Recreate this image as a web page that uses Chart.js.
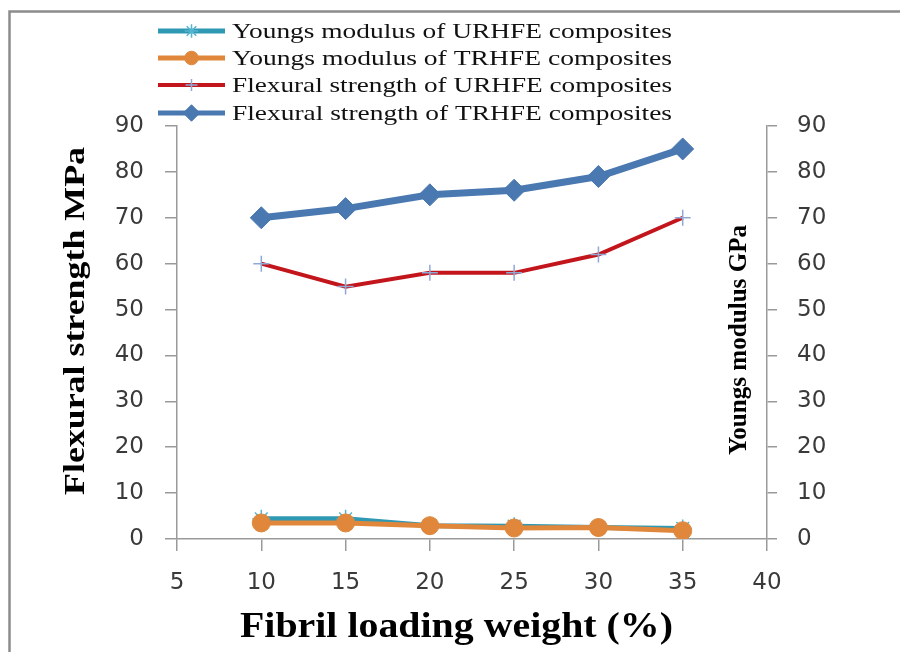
<!DOCTYPE html>
<html>
<head>
<meta charset="utf-8">
<script src="https://cdn.jsdelivr.net/npm/chart.js@4.4.1/dist/chart.umd.min.js"></script>
<style>
  html, body { margin: 0; padding: 0; background: #fff; }
</style>
</head>
<body>
<canvas id="chart" width="900" height="652"></canvas>
<script>
// data
const loading = [10, 15, 20, 25, 30, 35];
const youngsURHFE = [4.4, 4.4, 2.9, 2.8, 2.5, 2.3];
const youngsTRHFE = [3.5, 3.5, 2.9, 2.4, 2.5, 1.8];
const flexURHFE = [60, 55, 58, 58, 62, 70];
const flexTRHFE = [70, 72, 75, 76, 79, 85];
const seriesNames = [
    'Youngs modulus of URHFE composites',
    'Youngs modulus of TRHFE composites',
    'Flexural strength of URHFE composites',
    'Flexural strength of TRHFE composites'
];
const xTitle = 'Fibril loading weight (%)';
const yLeftTitle = 'Flexural strength MPa';
const yRightTitle = 'Youngs modulus GPa';

const toPoints = (ys) => loading.map((x, i) => ({ x: x, y: ys[i] }));

const tickFont = { family: 'DejaVu Sans', size: 23 };
const tickColor = '#3a3a3a';
const axisGrey = '#9a9a9a';

// write text stretched along its direction to a given width (the original is a wide picture)
function fitText(ctx, text, x, y, width) {
    const w = ctx.measureText(text).width;
    ctx.save();
    ctx.translate(x, y);
    ctx.scale(width / w, 1);
    ctx.fillText(text, 0, 0);
    ctx.restore();
}

// frame round the whole picture
const framePlugin = {
    id: 'frame',
    beforeDraw(chart) {
        const ctx = chart.ctx;
        ctx.save();
        ctx.fillStyle = '#fff';
        ctx.fillRect(0, 0, chart.width, chart.height);
        ctx.strokeStyle = '#8c8c8c';
        ctx.lineWidth = 2.5;
        ctx.strokeRect(9.5, 11.5, 1200, 1200);
        ctx.restore();
    }
};

// legend drawn with line + marker like the original
const legendPlugin = {
    id: 'lineLegend',
    afterDraw(chart) {
        const ctx = chart.ctx;
        const x0 = 158, x1 = 225, textX = 232;
        const rows = [31, 58, 85, 113];
        ctx.save();
        ctx.font = '21px "Liberation Serif"';
        chart.data.datasets.forEach((ds, i) => {
            const y = rows[i];
            ctx.strokeStyle = ds.borderColor;
            ctx.lineWidth = Math.min(ds.borderWidth, 5);
            ctx.beginPath();
            ctx.moveTo(x0, y);
            ctx.lineTo(x1, y);
            ctx.stroke();
            ctx.fillStyle = ds.pointBackgroundColor;
            ctx.strokeStyle = ds.pointBorderColor;
            ctx.lineWidth = ds.pointBorderWidth;
            Chart.helpers.drawPoint(ctx, {
                pointStyle: ds.pointStyle,
                radius: ds.pointRadius * 0.75,
                rotation: 0,
                borderWidth: ds.pointBorderWidth
            }, (x0 + x1) / 2, y);
            ctx.fillStyle = '#111';
            ctx.textBaseline = 'middle';
            ctx.textAlign = 'left';
            fitText(ctx, ds.label, textX, y + 1, 440);
        });
        ctx.restore();
    }
};

// axis titles (the right one reads bottom-to-top, like the left one)
const titlesPlugin = {
    id: 'axisTitles',
    afterDraw(chart) {
        const ctx = chart.ctx;
        ctx.save();
        ctx.fillStyle = '#000';
        ctx.textAlign = 'left';
        ctx.textBaseline = 'alphabetic';

        ctx.font = 'bold 35px "Liberation Serif"';
        fitText(ctx, xTitle, 240, 637, 433);

        ctx.save();
        ctx.translate(84, 495);
        ctx.rotate(-Math.PI / 2);
        ctx.font = 'bold 30px "Liberation Serif"';
        fitText(ctx, yLeftTitle, 0, 0, 348);
        ctx.restore();

        ctx.save();
        ctx.translate(746, 455);
        ctx.rotate(-Math.PI / 2);
        ctx.font = 'bold 25px "Liberation Serif"';
        fitText(ctx, yRightTitle, 0, 0, 230);
        ctx.restore();

        ctx.restore();
    }
};

const ctx = document.getElementById('chart').getContext('2d');
new Chart(ctx, {
    type: 'line',
    data: {
        datasets: [
            {
                label: seriesNames[0],
                data: toPoints(youngsURHFE),
                yAxisID: 'y2',
                borderColor: '#2f98b3',
                borderWidth: 5,
                pointStyle: 'star',
                pointRadius: 9,
                pointBorderColor: '#55b4d0',
                pointBackgroundColor: '#55b4d0',
                pointBorderWidth: 1.5,
                order: 2
            },
            {
                label: seriesNames[1],
                data: toPoints(youngsTRHFE),
                yAxisID: 'y2',
                borderColor: '#e0873b',
                borderWidth: 5,
                pointStyle: 'circle',
                pointRadius: 9,
                pointBorderColor: '#e0873b',
                pointBackgroundColor: '#e0873b',
                pointBorderWidth: 1,
                order: 1
            },
            {
                label: seriesNames[2],
                data: toPoints(flexURHFE),
                yAxisID: 'y',
                borderColor: '#c3161c',
                borderWidth: 4,
                pointStyle: 'cross',
                pointRadius: 8,
                pointBorderColor: '#8fa9d6',
                pointBackgroundColor: '#8fa9d6',
                pointBorderWidth: 1.5,
                order: 4
            },
            {
                label: seriesNames[3],
                data: toPoints(flexTRHFE),
                yAxisID: 'y',
                borderColor: '#4a78b0',
                borderWidth: 7,
                pointStyle: 'rectRot',
                pointRadius: 11,
                pointBorderColor: '#4a78b0',
                pointBackgroundColor: '#4a78b0',
                pointBorderWidth: 1,
                order: 3
            }
        ]
    },
    options: {
        responsive: false,
        animation: false,
        layout: { padding: { top: 126, left: 0, right: 0, bottom: 0 } },
        elements: { line: { tension: 0 } },
        plugins: {
            legend: { display: false },
            tooltip: { enabled: false }
        },
        scales: {
            x: {
                type: 'linear',
                min: 5,
                max: 40,
                afterFit: (scale) => { scale.height = 113; },
                ticks: { stepSize: 5, color: tickColor, font: tickFont, padding: 18, maxRotation: 0 },
                grid: { drawOnChartArea: false, tickLength: 12, color: axisGrey, lineWidth: 1.5 },
                border: { color: axisGrey, width: 1.5 }
            },
            y: {
                position: 'left',
                min: 0,
                max: 90,
                afterFit: (scale) => { scale.width = 177; },
                ticks: { stepSize: 10, color: tickColor, font: tickFont, padding: 21 },
                grid: { drawOnChartArea: false, tickLength: 12, color: axisGrey, lineWidth: 1.5 },
                border: { color: axisGrey, width: 1.5 }
            },
            y2: {
                position: 'right',
                min: 0,
                max: 90,
                afterFit: (scale) => { scale.width = 133; },
                ticks: { stepSize: 10, color: tickColor, font: tickFont, padding: 20 },
                grid: { drawOnChartArea: false, tickLength: 10, color: axisGrey, lineWidth: 1.5 },
                border: { color: axisGrey, width: 1.5 }
            }
        }
    },
    plugins: [framePlugin, legendPlugin, titlesPlugin]
});
</script>
</body>
</html>
